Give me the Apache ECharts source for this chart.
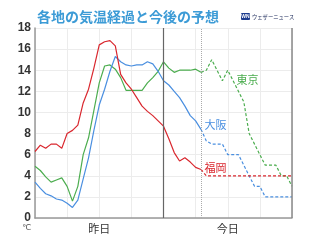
<!DOCTYPE html>
<html><head><meta charset="utf-8">
<script src="https://cdn.jsdelivr.net/npm/echarts@6/dist/echarts.min.js"></script>
<style>html,body{margin:0;padding:0;background:#fff}#c{width:320px;height:240px}</style>
</head><body><div id="c"></div>
<script>
// hours from yesterday 0:00 to tomorrow 0:00
const hours = [0,1,2,3,4,5,6,7,8,9,10,11,12,13,14,15,16,17,18,19,20,21,22,23,24,25,26,27,28,29,30,31,32,33,34,35,36,37,38,39,40,41,42,43,44,45,46,47,48];
const nowHour = 31;
const midnightHour = 24;
const endHour = 48;
const dayLabels = {12: '昨日', 36: '今日'};
const cityNames = ['東京', '大阪', '福岡'];
const cityColors = ['#4cad4f', '#4a8fe0', '#d9272e'];

// observed (h0..h31)
const tokyoObs = [4.9,4.5,3.9,3.4,3.6,3.8,3.0,1.6,3.0,6.0,7.6,10.2,12.8,14.4,14.5,14.1,13.3,12.1,12.1,12.1,12.1,12.8,13.3,13.9,14.8,14.2,13.8,14.0,14.0,14.0,14.1,13.8];
const osakaObs = [3.4,2.8,2.3,2.1,1.8,1.7,1.4,1.0,1.7,3.7,5.7,8.3,10.7,12.2,13.9,15.3,14.8,14.5,14.4,14.5,14.5,14.8,14.6,13.9,13.0,12.6,12.0,11.4,10.6,9.7,9.2,8.4];
const fukuokaObs = [6.3,6.9,6.6,7.0,7.0,6.6,8.0,8.3,8.8,10.9,12.2,14.2,16.4,16.7,16.8,16.3,13.6,12.8,12.2,11.4,10.6,10.1,9.7,9.2,8.7,7.5,6.2,5.4,5.7,5.3,4.8,4.6];

// forecast (h31..h48)
const tokyoFc = [13.8,14,15,14,13,14,13,12,11,8,7,6,5,5,5,4,4,3];
const osakaFc = [8.4,7.3,7,7,7,6,6,6,5,4,3,3,2,2,2,2,2,2];
const fukuokaFc = [4.6,4,4,4,4,4,4,4,4,4,4,4,4,4,4,4,4,4];

// label anchor points [hour, temp]
const labelAt = [[39.7, 13.1], [33.7, 8.8], [33.7, 4.75]];

const obsHours = hours.slice(0, nowHour + 1);
const fcHours = hours.slice(nowHour);
const obs = [tokyoObs, osakaObs, fukuokaObs];
const fc = [tokyoFc, osakaFc, fukuokaFc];

const series = [];
for (let c = 0; c < 3; c++) {
  series.push({
    type: 'line', symbol: 'none', silent: true,
    data: obsHours.map((h, i) => [h, obs[c][i]]),
    lineStyle: {color: cityColors[c], width: 1.2},
    z: 3
  });
  series.push({
    type: 'line', symbol: 'none', silent: true,
    data: fcHours.map((h, i) => [h, fc[c][i]]),
    lineStyle: {color: cityColors[c], width: 1.2, type: [3, 2]},
    markPoint: {
      symbol: 'circle', symbolSize: 1, silent: true,
      itemStyle: {color: 'transparent'},
      label: {show: true, position: 'inside', color: cityColors[c], fontSize: 11,
              fontFamily: 'Noto Sans CJK JP', formatter: cityNames[c]},
      data: [{coord: labelAt[c]}]
    },
    z: 3
  });
}
series[0].markLine = {
  silent: true, symbol: ['none', 'none'], label: {show: false},
  animation: false,
  data: [
    {xAxis: midnightHour, lineStyle: {color: '#666', width: 1.2, type: 'solid'}},
    {xAxis: nowHour, lineStyle: {color: '#aaa', width: 1, type: 'dotted'}},
    {xAxis: endHour, lineStyle: {color: '#888', width: 1.5, type: 'solid'}}
  ]
};

const chart = echarts.init(document.getElementById('c'), null, {renderer: 'canvas'});
chart.setOption({
  animation: false,
  backgroundColor: '#fff',
  title: {
    text: '各地の気温経過と今後の予想', left: 32, top: 5,
    textStyle: {color: '#3c9bd6', fontSize: 14, fontWeight: 'bold', fontFamily: 'Noto Sans CJK JP'}
  },
  grid: {left: 35, right: 28, top: 28, bottom: 22},
  xAxis: {
    type: 'value', min: 0, max: endHour, interval: 6,
    axisLine: {show: true, lineStyle: {color: '#999', width: 1.5}},
    axisTick: {show: false},
    axisLabel: {formatter: v => dayLabels[v] || '', color: '#333', fontSize: 11,
                fontFamily: 'Noto Sans CJK JP', margin: 5},
    splitLine: {show: true, lineStyle: {color: '#ececec', width: 1}}
  },
  yAxis: {
    type: 'value', min: 0, max: 18, interval: 2,
    axisLine: {show: true, lineStyle: {color: '#999', width: 1.5}},
    axisTick: {show: false},
    axisLabel: {color: '#333', fontSize: 12, fontWeight: 'bold', fontFamily: 'Liberation Sans', margin: 4},
    splitLine: {show: true, lineStyle: {color: '#ececec', width: 1}}
  },
  graphic: [
    {type: 'text', left: 22, top: 224, style: {text: '℃', fill: '#555', fontSize: 8, fontFamily: 'DejaVu Sans'}},
    {type: 'rect', shape: {x: 241, y: 13, width: 9, height: 7, r: 1}, style: {fill: '#1d3c8f'}},
    {type: 'text', x: 245.5, y: 16.5, style: {text: 'WN', fill: '#fff', fontSize: 5, fontWeight: 'bold', align: 'center', verticalAlign: 'middle', fontFamily: 'Liberation Sans'}},
    {type: 'text', x: 252, y: 17, style: {text: 'ウェザーニュース', fill: '#1c2a5a', fontSize: 5.3, verticalAlign: 'middle', fontFamily: 'Noto Sans CJK JP'}}
  ],
  series: series
});
</script></body></html>
